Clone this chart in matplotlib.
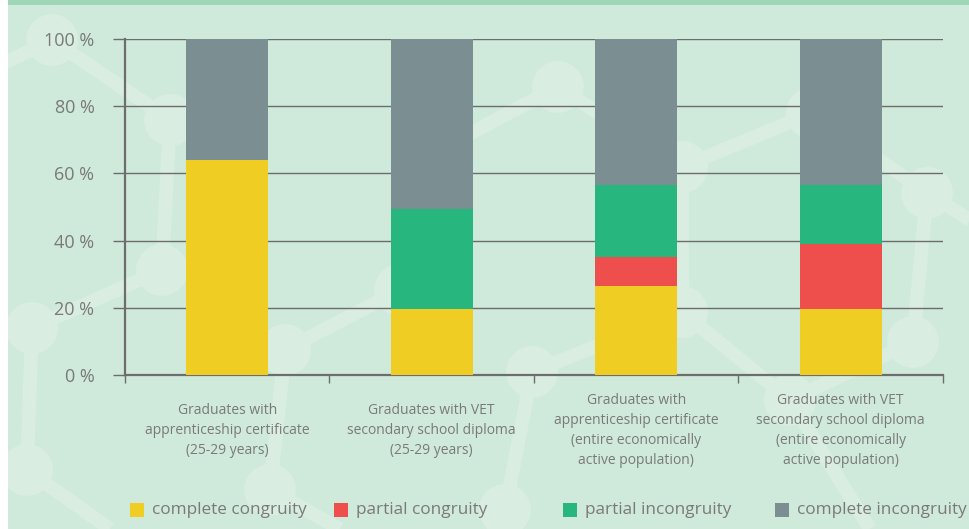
import matplotlib
matplotlib.use("Agg")
import matplotlib.pyplot as plt
from matplotlib.patches import Rectangle, Circle
from matplotlib.lines import Line2D
import numpy as np

# data (percent)
categories = [
    "Graduates with\napprenticeship certificate\n(25-29 years)",
    "Graduates with VET\nsecondary school diploma\n(25-29 years)",
    "Graduates with\napprenticeship certificate\n(entire economically\nactive population)",
    "Graduates with VET\nsecondary school diploma\n(entire economically\nactive population)",
]
series_names = ["complete congruity", "partial congruity",
                "partial incongruity", "complete incongruity"]
complete_congruity = [64, 19.5, 26.5, 19.5]
partial_congruity = [0, 0, 8.5, 19.5]
partial_incongruity = [0, 30, 21.5, 17.5]
complete_incongruity = [36, 50.5, 43.5, 43.5]
yticks = [0, 20, 40, 60, 80, 100]

colors = ["#f0cd22", "#ef4f4c", "#27b67d", "#7b8f93"]
bg = "#cfe9da"
deco = "#d9ede1"
axcol = "#6d6d6d"
txtcol = "#7a7a7a"

W, H = 970, 529
plt.rcParams["font.family"] = ["Open Sans", "DejaVu Sans"]

fig = plt.figure(figsize=(W / 100, H / 100), dpi=100)
fig.patch.set_facecolor(bg)

# background network decoration (pixel coords, y from top)
nodes = {
    "a": (52, 40), "b": (170, 120), "c": (162, 270), "d": (32, 328),
    "e": (27, 470), "f": (285, 350), "g": (270, 490), "h": (558, 87),
    "i": (682, 167), "j": (812, 113), "k": (927, 193), "l": (913, 342),
    "m": (682, 312), "n": (532, 372), "o": (505, 510), "p": (790, 400),
    "q": (0, 65), "r": (110, 529), "s": (400, 290), "t": (340, 529),
    "u": (420, 160), "v": (970, 220), "w": (870, 529),
}
edges = ["qa", "ab", "bc", "cd", "de", "er", "fs", "fg", "gt", "uh",
         "hi", "ij", "jk", "kv", "kl", "lp", "im", "mn", "mp", "no", "pw"]
tr = fig.dpi_scale_trans
for e0, e1 in edges:
    (x0, y0), (x1, y1) = nodes[e0], nodes[e1]
    fig.add_artist(Line2D([x0 / 100, x1 / 100], [(H - y0) / 100, (H - y1) / 100],
                          transform=tr, color=deco, lw=10, zorder=-2,
                          solid_capstyle="butt"))
for k, (x, y) in nodes.items():
    if k in "qrtvw":
        continue
    fig.add_artist(Circle((x / 100, (H - y) / 100), 0.26, transform=tr,
                          color=deco, zorder=-2, lw=0))

# top band and white left strip
fig.add_artist(Rectangle((0, 1 - 5 / H), 1, 5 / H, transform=fig.transFigure,
                         color="#a0d6b8", zorder=-1, lw=0))
fig.add_artist(Rectangle((0, 0), 8 / W, 1, transform=fig.transFigure,
                         color="white", zorder=-1, lw=0))

ax = fig.add_axes([125 / W, (H - 375) / H, (943 - 125) / W, 336 / H])
ax.set_facecolor("none")

x = np.arange(len(categories))
data = [complete_congruity, partial_congruity, partial_incongruity, complete_incongruity]
bottom = np.zeros(len(categories))
for vals, c in zip(data, colors):
    ax.bar(x, vals, 0.4, bottom=bottom, color=c, zorder=3, lw=0)
    bottom += np.array(vals)

ax.set_xlim(-0.5, len(categories) - 0.5)
ax.set_ylim(0, 100)
ax.set_yticks(yticks)
ax.set_yticklabels([f"{v} %" for v in yticks], fontsize=13, color=txtcol)
ax.yaxis.grid(True, color=axcol, lw=1.0, zorder=1)
ax.set_axisbelow(True)
ax.tick_params(axis="y", length=9, width=1.0, color=axcol, pad=13)

ax.set_xticks(x)
ax.set_xticklabels(categories, fontsize=10, color=txtcol, linespacing=1.45)
for lab in ax.get_xticklabels():
    lab.set_verticalalignment("center")
ax.tick_params(axis="x", which="major", length=0, pad=40)
ax.set_xticks(np.arange(len(categories) + 1) - 0.5, minor=True)
ax.tick_params(axis="x", which="minor", length=6, width=1.0, color=axcol)

for s in ["top", "right"]:
    ax.spines[s].set_visible(False)
for s in ["left", "bottom"]:
    ax.spines[s].set_color(axcol)
    ax.spines[s].set_linewidth(1.6)

# legend drawn by hand to match spacing
leg_x = [130, 334, 563, 775]
for name, c, lx in zip(series_names, colors, leg_x):
    fig.add_artist(Rectangle((lx / W, (H - 517) / H), 14 / W, 14 / H,
                             transform=fig.transFigure, color=c, lw=0))
    fig.text((lx + 22) / W, (H - 510) / H, name, fontsize=12.3, color=txtcol,
             va="center", ha="left")

fig.savefig("out.png", dpi=100)
